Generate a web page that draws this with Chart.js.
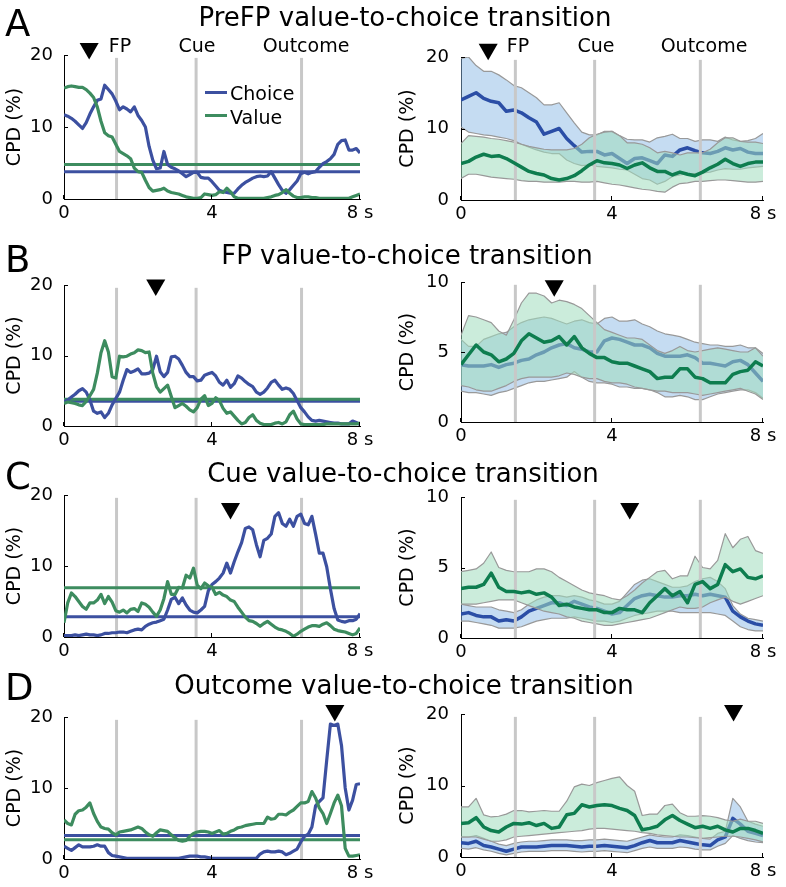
<!DOCTYPE html>
<html>
<head>
<meta charset="utf-8">
<title>Value-to-choice transitions</title>
<script src="https://cdn.jsdelivr.net/npm/chart.js"></script>
<style>
  html, body { margin: 0; padding: 0; background: #fff; }
  #figure { position: relative; width: 786px; height: 887px; overflow: hidden; font-family: "DejaVu Sans", sans-serif; color: #000; }
  #figure canvas { position: absolute; }
  .txt { position: absolute; white-space: nowrap; line-height: 1; z-index: 2; }
  .title { font-size: 26px; transform: translateX(-50%); }
  .letter { font-size: 37px; left: 5px; }
  .event { font-size: 19px; top: 36px; transform: translateX(-50%); }
  .legend { font-size: 19px; left: 230px; }
  .swatch { position: absolute; left: 205px; width: 22px; height: 3px; z-index: 2; }
</style>
</head>
<body>
<div id="figure">
  <div class="txt letter" style="top:5px">A</div>
  <div class="txt letter" style="top:241px">B</div>
  <div class="txt letter" style="top:458px">C</div>
  <div class="txt letter" style="top:669px">D</div>

  <div class="txt title" style="left:405px; top:4px">PreFP value-to-choice transition</div>
  <div class="txt title" style="left:407px; top:242px">FP value-to-choice transition</div>
  <div class="txt title" style="left:403px; top:460px">Cue value-to-choice transition</div>
  <div class="txt title" style="left:404px; top:672px">Outcome value-to-choice transition</div>

  <div class="txt event" style="left:120px">FP</div>
  <div class="txt event" style="left:197px">Cue</div>
  <div class="txt event" style="left:306px">Outcome</div>
  <div class="txt event" style="left:518px">FP</div>
  <div class="txt event" style="left:596px">Cue</div>
  <div class="txt event" style="left:704px">Outcome</div>

  <div class="swatch" style="top:91px; background:#3c50a0"></div>
  <div class="txt legend" style="top:84px">Choice</div>
  <div class="swatch" style="top:114px; background:#3d8c5f"></div>
  <div class="txt legend" style="top:108px">Value</div>
</div>

<script>
// 시간축 (초)
const timeLeft = Array.from({ length: 81 }, (_, i) => i / 10);
const timeRight = Array.from({ length: 41 }, (_, i) => i / 5);

// 이벤트 시점 (FP, Cue, Outcome)
const eventLeft = [1.42, 3.57, 6.42];
const eventRight = [1.44, 3.54, 6.34];

// 왼쪽 패널: 단일 세션 CPD (%)
const aChoice = [
  11.7, 11.5, 11.2, 10.8, 10.3, 9.8, 10.6, 11.8, 12.8, 13.7,
  13.9, 15.8, 15.2, 14.6, 13.6, 12.4, 12.8, 12.5, 12.1, 12.8,
  11.6, 10.9, 10.0, 7.3, 5.4, 4.2, 4.3, 6.6, 4.8, 4.4,
  4.2, 3.9, 3.5, 3.1, 3.4, 3.7, 3.7, 3.0, 2.9, 2.9,
  2.4, 1.8, 1.2, 1.0, 0.9, 0.8, 0.8, 1.4, 1.9, 2.3,
  2.6, 2.9, 3.1, 3.2, 3.1, 3.2, 3.8, 2.9, 2.0, 1.2,
  0.8, 1.3, 1.9, 2.5, 3.5, 3.7, 3.5, 3.7, 3.8, 4.4,
  4.9, 5.2, 5.6, 6.2, 7.6, 8.1, 8.2, 6.8, 6.8, 7.0,
  6.4
];
const aValue = [
  15.4, 15.6, 15.7, 15.6, 15.5, 15.5, 15.2, 14.7, 14.1, 12.8,
  10.8, 9.2, 8.8, 8.6, 7.6, 6.6, 6.3, 6.0, 5.6, 4.3,
  3.8, 3.7, 2.6, 1.6, 1.1, 1.2, 1.3, 1.5, 1.1, 0.9,
  0.8, 0.7, 0.5, 0.3, 0.2, 0.1, 0.1, 0.2, 0.7, 0.6,
  0.5, 0.6, 1.0, 0.9, 1.5, 1.0, 0.3, 0.1, 0.1, 0.1,
  0.1, 0.1, 0.1, 0.1, 0.1, 0.2, 0.3, 0.5, 0.6, 0.9,
  1.3, 0.8, 0.4, 0.2, 0.2, 0.3, 0.3, 0.2, 0.2, 0.1,
  0.1, 0.1, 0.1, 0.1, 0.1, 0.1, 0.1, 0.1, 0.3, 0.5,
  0.7
];
const bChoice = [
  3.4, 3.7, 4.1, 4.5, 5.0, 5.3, 4.8, 3.7, 2.1, 1.8,
  2.0, 1.2, 1.8, 3.0, 3.9, 4.8, 6.5, 8.0, 7.6, 7.8,
  8.1, 7.4, 7.4, 7.5, 8.0, 9.9, 7.7, 7.0, 7.6, 9.8,
  9.9, 9.5, 8.6, 7.6, 7.0, 7.0, 6.4, 6.5, 7.2, 7.4,
  7.6, 7.1, 6.2, 5.8, 6.5, 5.5, 6.0, 7.1, 6.8, 6.3,
  5.9, 5.6, 4.8, 4.5, 4.8, 5.4, 6.2, 6.5, 5.8, 5.2,
  5.4, 5.2, 4.6, 3.6, 2.6, 2.0, 1.3, 0.8, 0.7, 0.8,
  0.7, 0.6, 0.5, 0.4, 0.4, 0.3, 0.3, 0.3, 0.7, 0.5,
  0.2
];
const bValue = [
  3.2, 3.4, 3.3, 3.2, 3.0, 2.9, 3.5, 4.3, 5.2, 7.5,
  10.4, 12.1, 10.5, 7.0, 6.8, 9.9, 9.8, 9.9, 10.2, 10.4,
  10.8, 10.7, 10.4, 10.5, 7.5, 5.6, 4.8, 5.3, 5.8, 4.2,
  2.6, 2.9, 3.2, 2.8, 2.3, 2.0, 2.6, 3.8, 4.3, 2.9,
  3.2, 4.0, 3.6, 2.5, 1.8, 2.0, 1.4, 0.8, 0.3, 0.5,
  1.2, 1.6, 0.8, 0.4, 0.2, 0.2, 0.2, 0.4, 0.5, 0.3,
  0.6, 1.6, 2.1, 1.0, 0.3, 0.2, 0.2, 0.2, 0.2, 0.2,
  0.2, 0.3, 0.3, 0.3, 0.3, 0.3, 0.3, 0.3, 0.3, 0.3,
  0.4
];
const cChoice = [
  0.2, 0.2, 0.2, 0.3, 0.2, 0.3, 0.4, 0.3, 0.3, 0.2,
  0.3, 0.5, 0.5, 0.6, 0.6, 0.7, 0.7, 0.6, 0.8, 1.0,
  1.1, 1.0, 1.5, 1.8, 2.0, 2.1, 2.3, 2.5, 3.8, 5.3,
  5.6, 4.7, 5.5, 4.5, 3.8, 3.5, 3.4, 3.8, 4.3, 6.5,
  7.4, 7.8, 8.3, 9.0, 10.4, 9.0, 10.6, 12.0, 13.3, 15.3,
  15.5, 15.1, 13.0, 11.3, 13.6, 13.9, 14.5, 17.0, 17.5, 16.0,
  15.6, 16.6, 15.6, 17.0, 17.3, 16.0, 15.8, 17.0, 14.5, 11.8,
  11.8, 9.9, 6.8, 4.0, 2.4, 2.2, 2.1, 2.3, 2.3, 2.5,
  3.3
];
const cValue = [
  2.0, 4.8, 6.2, 5.7, 5.0, 4.3, 3.9, 4.8, 4.8, 5.2,
  6.0, 4.7, 5.7, 4.9, 3.7, 3.5, 3.8, 3.4, 3.9, 4.0,
  3.6, 4.8, 4.6, 4.2, 3.5, 2.9, 3.8, 5.4, 7.8, 6.0,
  6.0, 7.0, 6.9, 8.7, 8.3, 9.7, 7.3, 6.8, 7.6, 7.2,
  7.0, 6.0, 6.3, 5.9, 5.7, 5.2, 5.0, 4.2, 3.5, 2.8,
  2.3, 2.2, 1.9, 1.5, 1.9, 2.2, 1.8, 1.4, 1.1, 1.0,
  0.8, 0.5, 0.1, 0.4, 0.8, 1.1, 1.4, 1.6, 1.6, 1.5,
  1.8, 2.0, 1.6, 1.1, 0.9, 0.8, 0.7, 0.5, 0.3, 0.5,
  1.3
];
const dChoice = [
  1.8, 1.5, 1.2, 1.6, 2.0, 1.7, 1.7, 1.7, 1.8, 2.0,
  1.8, 1.8, 0.9, 0.5, 0.4, 0.3, 0.2, 0.1, 0.1, 0.1,
  0.1, 0.1, 0.1, 0.1, 0.1, 0.1, 0.1, 0.1, 0.1, 0.1,
  0.1, 0.1, 0.2, 0.3, 0.4, 0.4, 0.4, 0.3, 0.3, 0.2,
  0.1, 0.1, 0.1, 0.1, 0.1, 0.1, 0.1, 0.1, 0.1, 0.1,
  0.1, 0.1, 0.1, 0.7, 1.0, 1.1, 1.0, 1.0, 1.1, 1.0,
  0.6, 0.8, 1.1, 1.4, 2.4, 3.2, 3.5, 4.5, 7.5, 8.1,
  8.6, 13.9, 19.0, 18.8, 19.0, 16.0, 10.0, 6.9, 8.3, 10.5,
  10.6
];
const dValue = [
  5.5, 5.0, 4.8, 6.3, 6.8, 6.9, 7.3, 7.9, 6.4, 5.3,
  4.5, 4.3, 4.2, 3.7, 3.4, 3.8, 3.9, 4.0, 4.1, 4.3,
  4.5, 4.3, 3.8, 3.4, 3.2, 3.7, 4.1, 4.0, 3.9, 3.4,
  3.0, 2.6, 2.5, 2.6, 3.2, 3.6, 3.8, 3.9, 3.9, 3.8,
  3.6, 3.8, 4.0, 3.5, 3.6, 3.9, 4.1, 4.4, 4.5, 4.7,
  4.8, 4.9, 5.0, 5.0, 5.0, 5.9, 5.6, 5.7, 6.3, 6.3,
  6.2, 6.6, 6.9, 7.4, 7.9, 7.9, 8.1, 9.5, 8.6, 7.2,
  6.4, 5.0, 6.4, 7.9, 9.0, 7.5, 1.5, 0.4, 0.4, 0.5,
  0.6
];

// 왼쪽 패널 유의 기준선
const choiceThreshold = [3.8, 3.5, 2.85, 3.3];
const valueThreshold = [4.8, 3.8, 6.95, 2.7];

// 오른쪽 패널: 평균 및 신뢰구간 (%)
const aChoiceMean = [14.0, 14.5, 15.0, 14.2, 13.8, 13.6, 12.4, 12.6, 12.2, 11.5, 10.9, 9.2, 9.6, 10.0, 8.6, 7.6, 6.7, 6.8, 6.8, 6.3, 6.5, 5.8, 5.1, 5.8, 5.9, 5.5, 5.1, 6.3, 6.1, 7.0, 7.3, 6.9, 6.6, 6.5, 6.8, 7.3, 7.0, 7.2, 6.7, 6.5, 6.5];
const aChoiceHi = [19.8, 20.0, 18.8, 18.0, 18.0, 17.5, 16.8, 16.0, 15.7, 15.0, 14.3, 13.3, 13.3, 13.6, 12.2, 10.8, 9.5, 9.1, 9.1, 9.6, 9.6, 9.0, 8.5, 8.4, 8.4, 8.1, 8.7, 8.9, 9.2, 8.6, 8.6, 8.2, 8.4, 8.4, 8.2, 8.8, 8.4, 8.2, 8.3, 8.6, 9.3];
const aChoiceLo = [10.2, 9.5, 9.3, 9.1, 9.0, 8.8, 8.6, 8.3, 7.8, 7.4, 7.0, 6.7, 6.5, 6.5, 5.6, 5.1, 4.8, 4.9, 4.7, 4.6, 4.5, 4.3, 4.2, 3.6, 3.0, 2.8, 2.2, 2.6, 3.3, 3.5, 3.7, 3.7, 3.8, 3.9, 4.2, 4.4, 4.3, 4.3, 4.5, 4.6, 4.7];
const aValueMean = [5.1, 5.4, 6.0, 6.4, 6.1, 6.2, 5.8, 5.2, 4.6, 4.0, 3.7, 3.5, 3.0, 2.8, 3.0, 3.4, 4.1, 4.9, 5.5, 5.2, 5.1, 4.9, 4.4, 4.9, 5.2, 4.5, 4.0, 4.0, 3.5, 3.9, 3.6, 3.4, 3.9, 4.5, 5.0, 5.7, 5.1, 4.7, 5.1, 5.3, 5.3];
const aValueHi = [7.9, 9.0, 8.9, 8.8, 8.6, 8.5, 8.3, 8.1, 7.8, 7.5, 7.3, 7.1, 7.0, 7.0, 7.0, 7.2, 7.8, 8.7, 9.2, 9.5, 9.6, 9.0, 8.0, 8.0, 7.8, 7.3, 6.6, 6.8, 6.6, 6.3, 6.6, 6.6, 6.6, 7.1, 8.0, 8.7, 8.7, 8.2, 8.1, 8.1, 7.9];
const aValueLo = [3.0, 3.6, 3.6, 3.4, 3.2, 3.1, 3.0, 2.9, 2.7, 2.6, 2.6, 2.5, 2.5, 2.5, 2.6, 2.6, 2.5, 2.5, 2.6, 2.4, 2.2, 2.1, 1.9, 1.7, 1.5, 1.4, 1.2, 1.1, 1.8, 2.3, 2.4, 2.6, 2.6, 2.7, 2.8, 2.8, 2.7, 2.6, 2.5, 2.5, 2.6];

const bChoiceMean = [4.1, 4.0, 4.0, 4.0, 4.1, 3.9, 4.1, 4.2, 4.4, 4.5, 4.8, 5.0, 5.3, 5.5, 5.6, 5.3, 5.2, 5.0, 5.0, 5.8, 6.0, 5.9, 5.7, 5.5, 5.5, 5.3, 4.9, 4.7, 4.7, 4.7, 4.8, 4.6, 4.2, 4.2, 4.1, 4.0, 4.3, 4.4, 4.1, 3.5, 2.9];
const bChoiceHi = [5.9, 5.4, 5.4, 5.9, 6.1, 6.3, 6.4, 6.8, 7.1, 7.3, 7.4, 7.5, 7.4, 7.2, 7.0, 7.2, 7.3, 7.1, 7.0, 7.4, 7.5, 7.2, 7.2, 7.3, 7.0, 6.8, 6.5, 6.3, 6.2, 6.1, 5.9, 5.7, 5.6, 5.5, 5.5, 5.4, 5.4, 5.5, 5.3, 5.3, 4.9];
const bChoiceLo = [2.2, 2.1, 2.1, 2.0, 1.9, 2.1, 2.2, 2.4, 2.6, 2.8, 2.9, 2.9, 3.0, 3.1, 3.2, 3.6, 3.2, 2.9, 2.8, 2.8, 2.7, 2.5, 2.5, 2.4, 2.4, 2.3, 2.1, 1.8, 1.8, 1.9, 1.8, 1.6, 1.6, 1.8, 2.0, 2.1, 2.2, 2.3, 2.3, 2.1, 1.7];
const bValueMean = [4.1, 4.8, 5.5, 5.0, 4.8, 4.3, 4.5, 4.9, 5.8, 6.3, 6.0, 5.7, 5.8, 6.1, 5.5, 6.1, 5.3, 4.9, 4.6, 4.6, 4.3, 4.2, 4.2, 4.0, 3.8, 3.6, 3.1, 3.2, 3.2, 3.8, 3.8, 3.2, 3.1, 2.8, 2.8, 2.8, 3.4, 3.6, 3.7, 4.3, 4.0];
const bValueHi = [6.2, 7.6, 7.5, 7.3, 7.1, 6.5, 6.2, 7.3, 8.5, 9.2, 9.2, 9.0, 8.5, 8.7, 8.6, 8.4, 8.1, 7.6, 7.1, 6.6, 6.4, 6.2, 6.0, 6.0, 5.9, 5.5, 5.1, 4.9, 5.1, 5.4, 5.1, 5.0, 5.1, 5.2, 5.3, 5.2, 5.1, 5.0, 5.0, 5.3, 4.7];
const bValueLo = [2.6, 2.5, 2.3, 2.2, 2.2, 2.4, 2.6, 2.9, 3.1, 3.2, 3.2, 3.2, 3.2, 3.3, 3.5, 3.4, 3.2, 3.1, 3.1, 2.9, 2.8, 2.8, 2.7, 2.5, 2.4, 2.3, 2.2, 2.2, 2.1, 2.1, 2.1, 2.0, 1.9, 2.0, 2.1, 2.2, 2.3, 2.4, 2.2, 2.0, 1.6];

const cChoiceMean = [1.7, 1.8, 1.6, 1.5, 1.5, 1.2, 1.3, 1.2, 1.5, 1.9, 2.1, 2.3, 2.5, 2.5, 2.3, 2.6, 2.4, 2.2, 2.1, 1.9, 1.7, 1.8, 2.3, 2.8, 3.0, 3.1, 3.0, 2.9, 2.9, 3.0, 3.0, 3.1, 3.0, 3.1, 3.0, 2.9, 1.9, 1.5, 1.2, 1.0, 0.9];
const cChoiceHi = [2.4, 2.3, 2.2, 2.2, 2.2, 2.0, 1.9, 1.8, 2.0, 2.4, 2.7, 2.9, 3.0, 3.0, 2.9, 3.0, 2.9, 2.7, 2.6, 2.4, 2.4, 2.6, 3.2, 3.8, 4.1, 4.2, 4.0, 3.8, 3.6, 3.6, 3.7, 4.0, 4.2, 4.3, 4.0, 3.5, 2.3, 1.7, 1.4, 1.3, 1.2];
const cChoiceLo = [1.2, 1.2, 1.1, 1.0, 0.9, 0.7, 0.7, 0.7, 0.8, 1.0, 1.2, 1.3, 1.4, 1.4, 1.4, 1.5, 1.4, 1.3, 1.2, 1.2, 1.1, 1.2, 1.4, 1.6, 1.7, 1.8, 1.9, 1.9, 1.9, 1.8, 1.8, 1.8, 1.8, 1.8, 1.7, 1.6, 1.2, 0.8, 0.6, 0.5, 0.5];
const cValueMean = [3.5, 3.6, 3.6, 3.8, 4.6, 3.6, 3.3, 3.3, 3.2, 3.3, 3.1, 3.2, 2.9, 2.3, 2.4, 2.2, 2.1, 2.0, 2.0, 1.8, 1.8, 2.1, 2.0, 2.0, 1.8, 2.5, 3.0, 3.5, 3.0, 3.3, 2.5, 3.8, 4.0, 3.5, 3.8, 5.2, 4.7, 4.9, 4.3, 4.2, 4.4];
const cValueHi = [4.7, 4.8, 4.9, 5.3, 6.1, 5.0, 4.8, 4.7, 4.7, 4.7, 4.9, 4.9, 4.7, 4.3, 4.0, 3.7, 3.4, 3.2, 3.1, 3.0, 2.8, 2.7, 3.0, 3.4, 3.9, 4.3, 4.7, 4.8, 4.2, 4.4, 4.4, 5.8, 5.0, 4.9, 5.5, 7.4, 6.4, 7.0, 7.2, 6.2, 6.0];
const cValueLo = [2.4, 2.4, 2.4, 2.5, 2.6, 2.7, 2.7, 2.7, 2.5, 2.3, 2.1, 1.9, 1.8, 1.7, 1.5, 1.4, 1.2, 1.1, 1.0, 0.9, 0.9, 1.0, 1.1, 1.2, 1.3, 1.4, 1.6, 1.8, 2.0, 2.2, 2.1, 2.1, 2.2, 2.5, 2.7, 2.9, 2.6, 2.4, 2.6, 2.8, 3.0];

const dChoiceMean = [2.0, 1.9, 2.2, 1.6, 1.4, 1.1, 0.8, 1.1, 1.4, 1.4, 1.4, 1.5, 1.6, 1.6, 1.6, 1.5, 1.4, 1.5, 1.5, 1.6, 1.5, 1.4, 1.3, 1.6, 2.0, 2.3, 2.0, 2.0, 2.0, 2.3, 2.1, 1.9, 1.7, 1.6, 2.4, 2.8, 5.4, 4.6, 3.6, 3.3, 3.0];
const dChoiceHi = [2.8, 2.8, 3.0, 2.6, 2.2, 1.8, 1.6, 1.9, 2.1, 2.2, 2.2, 2.3, 2.4, 2.4, 2.4, 2.3, 2.3, 2.4, 2.4, 2.5, 2.4, 2.3, 2.2, 2.5, 2.8, 3.1, 2.9, 2.8, 2.8, 3.1, 3.0, 2.8, 2.6, 2.5, 3.3, 3.6, 8.2, 7.0, 5.0, 4.6, 4.3];
const dChoiceLo = [1.2, 1.1, 1.3, 1.0, 0.8, 0.5, 0.3, 0.5, 0.7, 0.8, 0.8, 0.8, 0.9, 0.9, 0.9, 0.8, 0.7, 0.8, 0.8, 0.9, 0.8, 0.7, 0.6, 0.9, 1.2, 1.4, 1.2, 1.2, 1.2, 1.4, 1.3, 1.1, 1.0, 1.0, 1.5, 1.9, 3.0, 2.6, 2.3, 2.1, 2.0];
const dValueMean = [4.7, 4.8, 5.5, 4.2, 3.7, 3.5, 4.2, 4.7, 4.6, 4.8, 4.4, 4.7, 4.0, 4.2, 5.9, 6.1, 7.3, 7.0, 7.2, 7.3, 7.2, 6.8, 6.5, 5.8, 3.8, 4.0, 4.3, 5.2, 5.8, 5.1, 4.6, 4.1, 4.3, 4.0, 4.3, 3.8, 3.5, 4.0, 4.0, 3.7, 3.3];
const dValueHi = [7.0, 7.0, 8.2, 5.9, 5.6, 5.7, 6.0, 6.5, 6.5, 6.3, 6.4, 6.5, 6.4, 6.4, 7.8, 9.8, 10.2, 10.0, 10.4, 10.7, 11.0, 11.2, 10.0, 9.2, 5.8, 6.0, 6.0, 7.2, 7.4, 6.2, 5.7, 5.7, 5.8, 5.7, 5.5, 5.2, 5.0, 5.3, 5.0, 5.0, 4.7];
const dValueLo = [2.8, 2.8, 2.8, 2.5, 2.2, 2.2, 2.4, 2.8, 2.9, 3.0, 3.1, 3.2, 3.3, 3.4, 3.5, 3.6, 3.7, 3.9, 4.0, 4.0, 3.9, 3.8, 3.7, 3.6, 3.4, 3.3, 3.1, 3.0, 2.9, 2.8, 2.8, 2.7, 2.6, 2.7, 2.8, 2.9, 2.9, 2.8, 2.6, 2.4, 2.1];

// 전환 시점 표시 (삼각형)
const markerTimeLeft = [0.68, 2.48, 4.5, 7.32];
const markerLevelLeft = [20.9, 20.0, 18.1, 20.9];
const markerTimeRight = [0.72, 2.47, 4.47, 7.22];
const markerLevelRight = [21.1, 9.73, 9.18, 20.5];

// y축 최대값
const yMaxLeft = [20, 20, 20, 20];
const yMaxRight = [20, 10, 10, 20];

// 색상
const colors = {
    choice: '#3c50a0',
    value: '#3d8c5f',
    choiceMean: '#2b4ea6',
    valueMean: '#0e7d4f',
    choiceBand: 'rgba(140, 185, 230, 0.5)',
    valueBand: 'rgba(160, 220, 190, 0.55)',
    bandEdge: '#999999',
    event: '#c8c8c8'
};

const fontFamily = '"DejaVu Sans", sans-serif';
const PAD_TOP = 34;
const PAD_RIGHT = 26;
const X_AXIS_H = 26;

// 플롯 영역 위치 (px)
const leftBoxes = [
    { left: 64, top: 55, width: 296, height: 144 },
    { left: 64, top: 285, width: 296, height: 141 },
    { left: 64, top: 495, width: 296, height: 142 },
    { left: 64, top: 717, width: 296, height: 142 }
];
const rightBoxes = [
    { left: 461, top: 57, width: 302, height: 143 },
    { left: 461, top: 282, width: 302, height: 140 },
    { left: 461, top: 497, width: 302, height: 141 },
    { left: 461, top: 714, width: 302, height: 143 }
];

function points(xs, ys) {
    return xs.map((x, i) => ({ x: x, y: ys[i] }));
}

function lineSet(xs, ys, color, width, order, extra) {
    return Object.assign({
        data: points(xs, ys),
        borderColor: color,
        backgroundColor: color,
        borderWidth: width,
        pointRadius: 0,
        fill: false,
        tension: 0,
        borderJoinStyle: 'round',
        order: order
    }, extra || {});
}

function eventSets(events, yMax, order) {
    return events.map(t => lineSet([t, t], [0, yMax * 0.98], colors.event, 3, order));
}

function markerSet(t, level) {
    return {
        data: [{ x: t, y: level }],
        showLine: false,
        pointStyle: 'triangle',
        pointRotation: 180,
        pointRadius: 11,
        pointHoverRadius: 11,
        pointBackgroundColor: '#000',
        pointBorderWidth: 0,
        borderWidth: 0,
        clip: false,
        order: 0
    };
}

// 축 안쪽으로 짧은 눈금 그리기
const inwardTicks = {
    id: 'inwardTicks',
    afterDraw(chart) {
        const ctx = chart.ctx;
        const area = chart.chartArea;
        const xs = chart.scales.x;
        const ys = chart.scales.y;
        ctx.save();
        ctx.strokeStyle = '#000';
        ctx.lineWidth = 1;
        ctx.beginPath();
        xs.ticks.forEach(t => {
            const px = Math.round(xs.getPixelForValue(t.value)) - 0.5;
            ctx.moveTo(px, area.bottom);
            ctx.lineTo(px, area.bottom - 4);
        });
        ys.ticks.forEach(t => {
            const py = Math.round(ys.getPixelForValue(t.value)) + 0.5;
            ctx.moveTo(area.left, py);
            ctx.lineTo(area.left + 4, py);
        });
        ctx.stroke();
        ctx.restore();
    }
};

function makeChart(box, yAxisWidth, tickPad, yMax, datasets) {
    const canvas = document.createElement('canvas');
    const w = yAxisWidth + box.width + PAD_RIGHT;
    const h = PAD_TOP + box.height + X_AXIS_H;
    canvas.width = w;
    canvas.height = h;
    canvas.style.left = (box.left - yAxisWidth) + 'px';
    canvas.style.top = (box.top - PAD_TOP) + 'px';
    canvas.style.width = w + 'px';
    canvas.style.height = h + 'px';
    document.getElementById('figure').appendChild(canvas);

    return new Chart(canvas.getContext('2d'), {
        type: 'line',
        data: { datasets: datasets },
        options: {
            responsive: false,
            animation: false,
            devicePixelRatio: 1,
            events: [],
            layout: { padding: { top: PAD_TOP, right: PAD_RIGHT, left: 0, bottom: 0 } },
            plugins: {
                legend: { display: false },
                tooltip: { enabled: false }
            },
            scales: {
                x: {
                    type: 'linear',
                    min: 0,
                    max: 8,
                    grid: { display: false, drawTicks: false },
                    border: { display: true, color: '#000', width: 1 },
                    ticks: {
                        stepSize: 4,
                        padding: 4,
                        color: '#000',
                        autoSkip: false,
                        maxRotation: 0,
                        font: { family: fontFamily, size: 18 },
                        callback: v => (v === 8 ? '8 s' : String(v))
                    },
                    afterFit: s => { s.height = X_AXIS_H; }
                },
                y: {
                    min: 0,
                    max: yMax,
                    grid: { display: false, drawTicks: false },
                    border: { display: true, color: '#000', width: 1 },
                    ticks: {
                        stepSize: yMax / 2,
                        padding: tickPad,
                        color: '#000',
                        font: { family: fontFamily, size: 18 }
                    },
                    title: {
                        display: true,
                        text: 'CPD (%)',
                        color: '#000',
                        padding: 0,
                        font: { family: fontFamily, size: 19 }
                    },
                    afterFit: s => { s.width = yAxisWidth; }
                }
            }
        },
        plugins: [inwardTicks]
    });
}

// 왼쪽 패널 (단일 뉴런 예시)
const leftSeries = [
    [aChoice, aValue], [bChoice, bValue], [cChoice, cValue], [dChoice, dValue]
];
leftSeries.forEach(([choice, value], i) => {
    const yMax = yMaxLeft[i];
    const sets = [
        markerSet(markerTimeLeft[i], markerLevelLeft[i]),
        lineSet(timeLeft, value, colors.value, 3.2, 5),
        lineSet(timeLeft, choice, colors.choice, 3.2, 6),
        lineSet([0, 8], [valueThreshold[i], valueThreshold[i]], colors.value, 3, 8),
        lineSet([0, 8], [choiceThreshold[i], choiceThreshold[i]], colors.choice, 3, 9)
    ].concat(eventSets(eventLeft, yMax, 20));
    makeChart(leftBoxes[i], 60, 11, yMax, sets);
});

// 오른쪽 패널 (집단 평균 ± 구간)
const rightSeries = [
    [aChoiceMean, aChoiceHi, aChoiceLo, aValueMean, aValueHi, aValueLo],
    [bChoiceMean, bChoiceHi, bChoiceLo, bValueMean, bValueHi, bValueLo],
    [cChoiceMean, cChoiceHi, cChoiceLo, cValueMean, cValueHi, cValueLo],
    [dChoiceMean, dChoiceHi, dChoiceLo, dValueMean, dValueHi, dValueLo]
];
rightSeries.forEach(([cm, chi, clo, vm, vhi, vlo], i) => {
    const yMax = yMaxRight[i];
    const sets = [
        markerSet(markerTimeRight[i], markerLevelRight[i]),
        lineSet(timeRight, vm, colors.valueMean, 3.5, 20),
        lineSet(timeRight, vhi, colors.bandEdge, 1.2, 27, { fill: '+1', backgroundColor: colors.valueBand }),
        lineSet(timeRight, vlo, colors.bandEdge, 1.2, 26),
        lineSet(timeRight, cm, colors.choiceMean, 3.5, 28),
        lineSet(timeRight, chi, colors.bandEdge, 1.2, 31, { fill: '+1', backgroundColor: colors.choiceBand }),
        lineSet(timeRight, clo, colors.bandEdge, 1.2, 30)
    ].concat(eventSets(eventRight, yMax, 25));
    makeChart(rightBoxes[i], 64, 12, yMax, sets);
});
</script>
</body>
</html>
